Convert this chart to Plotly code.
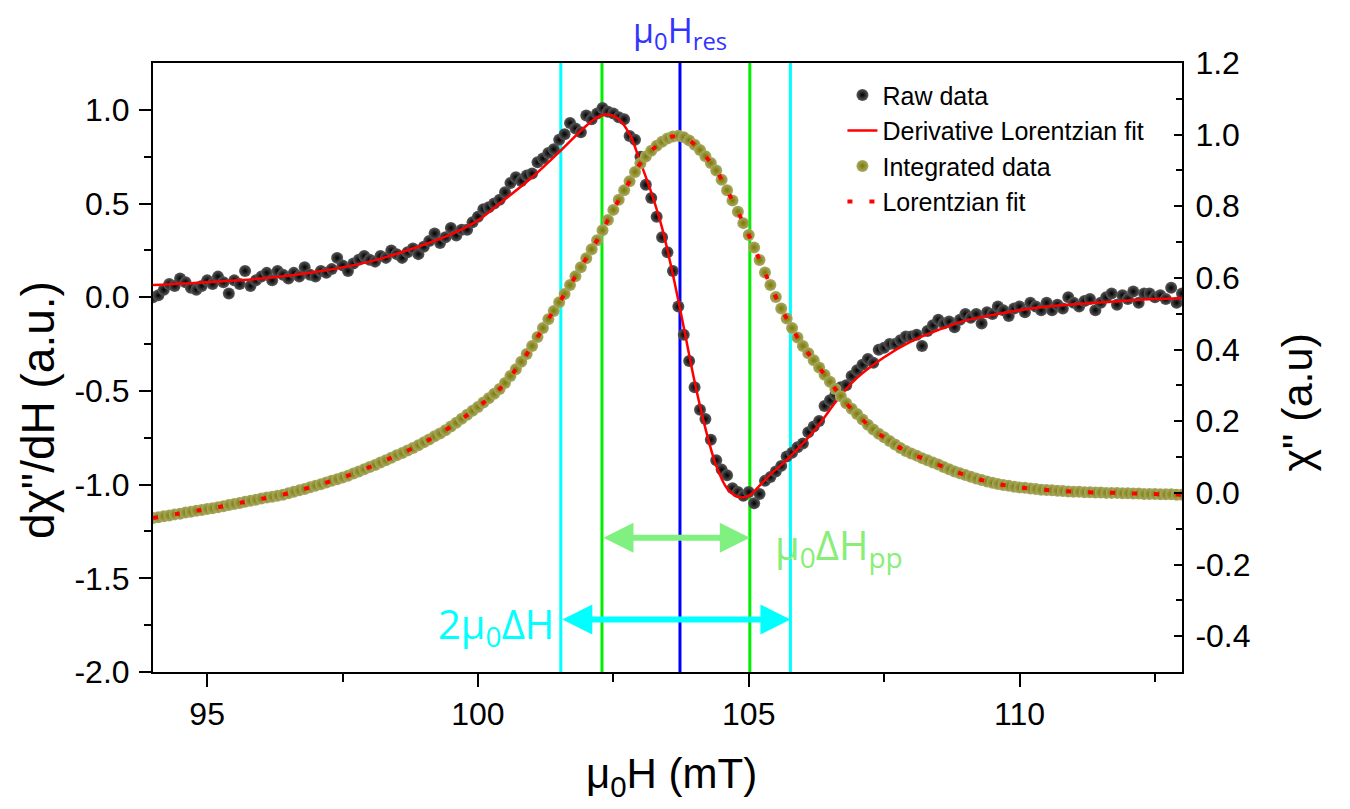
import plotly.graph_objects as go

# ---------------- data ----------------
field = [
    94.0, 94.1, 94.2, 94.3, 94.4, 94.5, 94.6, 94.7, 94.8, 94.9,
    95.0, 95.1, 95.2, 95.3, 95.4, 95.5, 95.6, 95.7, 95.8, 95.9,
    96.0, 96.1, 96.2, 96.3, 96.4, 96.5, 96.6, 96.7, 96.8, 96.9,
    97.0, 97.1, 97.2, 97.3, 97.4, 97.5, 97.6, 97.7, 97.8, 97.9,
    98.0, 98.1, 98.2, 98.3, 98.4, 98.5, 98.6, 98.7, 98.8, 98.9,
    99.0, 99.1, 99.2, 99.3, 99.4, 99.5, 99.6, 99.7, 99.8, 99.9,
    100.0, 100.1, 100.2, 100.3, 100.4, 100.5, 100.6, 100.7, 100.8, 100.9,
    101.0, 101.1, 101.2, 101.3, 101.4, 101.5, 101.6, 101.7, 101.8, 101.9,
    102.0, 102.1, 102.2, 102.3, 102.4, 102.5, 102.6, 102.7, 102.8, 102.9,
    103.0, 103.1, 103.2, 103.3, 103.4, 103.5, 103.6, 103.7, 103.8, 103.9,
    104.0, 104.1, 104.2, 104.3, 104.4, 104.5, 104.6, 104.7, 104.8, 104.9,
    105.0, 105.1, 105.2, 105.3, 105.4, 105.5, 105.6, 105.7, 105.8, 105.9,
    106.0, 106.1, 106.2, 106.3, 106.4, 106.5, 106.6, 106.7, 106.8, 106.9,
    107.0, 107.1, 107.2, 107.3, 107.4, 107.5, 107.6, 107.7, 107.8, 107.9,
    108.0, 108.1, 108.2, 108.3, 108.4, 108.5, 108.6, 108.7, 108.8, 108.9,
    109.0, 109.1, 109.2, 109.3, 109.4, 109.5, 109.6, 109.7, 109.8, 109.9,
    110.0, 110.1, 110.2, 110.3, 110.4, 110.5, 110.6, 110.7, 110.8, 110.9,
    111.0, 111.1, 111.2, 111.3, 111.4, 111.5, 111.6, 111.7, 111.8, 111.9,
    112.0, 112.1, 112.2, 112.3, 112.4, 112.5, 112.6, 112.7, 112.8, 112.9,
    113.0,
]

raw_deriv = [
    0.00, 0.01, 0.04, 0.07, 0.06, 0.10, 0.08, 0.05, 0.04, 0.06,
    0.09, 0.07, 0.11, 0.08, 0.02, 0.09, 0.07, 0.14, 0.06, 0.09,
    0.11, 0.13, 0.09, 0.14, 0.12, 0.10, 0.13, 0.11, 0.16, 0.12,
    0.11, 0.14, 0.13, 0.15, 0.21, 0.17, 0.14, 0.18, 0.20, 0.22,
    0.20, 0.19, 0.22, 0.21, 0.25, 0.23, 0.21, 0.24, 0.26, 0.23,
    0.27, 0.30, 0.34, 0.29, 0.32, 0.37, 0.33, 0.36, 0.36, 0.40,
    0.43, 0.47, 0.48, 0.50, 0.52, 0.56, 0.61, 0.64, 0.62, 0.65,
    0.66, 0.72, 0.74, 0.77, 0.79, 0.84, 0.87, 0.93, 0.90, 0.88,
    0.97, 0.95, 0.98, 1.01, 0.99, 0.98, 0.96, 0.95, 0.86, 0.84,
    0.75, 0.60, 0.53, 0.43, 0.32, 0.24, 0.14, -0.05, -0.20, -0.34,
    -0.48, -0.60, -0.65, -0.76, -0.87, -0.92, -0.95, -1.02, -1.04, -1.06,
    -1.04, -1.10, -1.05, -0.98, -0.96, -0.93, -0.90, -0.85, -0.83, -0.80,
    -0.78, -0.72, -0.69, -0.66, -0.58, -0.55, -0.52, -0.48, -0.47, -0.42,
    -0.39, -0.36, -0.33, -0.35, -0.28, -0.27, -0.25, -0.25, -0.23, -0.21,
    -0.21, -0.20, -0.26, -0.18, -0.15, -0.12, -0.14, -0.13, -0.16, -0.12,
    -0.09, -0.11, -0.09, -0.14, -0.08, -0.09, -0.05, -0.07, -0.10, -0.06,
    -0.05, -0.08, -0.03, -0.05, -0.07, -0.03, -0.07, -0.04, -0.06, 0.00,
    -0.03, -0.05, -0.02, -0.01, -0.07, -0.03, 0.00, 0.02, -0.04, 0.01,
    -0.01, 0.03, -0.03, 0.02, 0.02, 0.00, 0.01, -0.01, 0.05, -0.03,
    0.02,
]

integrated = [
    -0.070, -0.068, -0.065, -0.063, -0.060, -0.058, -0.055, -0.053, -0.050, -0.048,
    -0.045, -0.043, -0.040, -0.037, -0.034, -0.031, -0.028, -0.025, -0.022, -0.019,
    -0.016, -0.013, -0.011, -0.008, -0.005, -0.001, 0.003, 0.007, 0.011, 0.016,
    0.020, 0.024, 0.029, 0.034, 0.038, 0.043, 0.048, 0.054, 0.060, 0.066,
    0.072, 0.078, 0.085, 0.091, 0.098, 0.105, 0.111, 0.118, 0.125, 0.133,
    0.141, 0.149, 0.158, 0.166, 0.175, 0.185, 0.196, 0.207, 0.218, 0.229,
    0.240, 0.252, 0.264, 0.277, 0.290, 0.307, 0.326, 0.345, 0.366, 0.388,
    0.410, 0.435, 0.460, 0.485, 0.508, 0.532, 0.555, 0.580, 0.605, 0.630,
    0.655, 0.680, 0.705, 0.733, 0.762, 0.790, 0.818, 0.845, 0.870, 0.896,
    0.920, 0.939, 0.955, 0.969, 0.980, 0.989, 0.995, 0.997, 0.993, 0.984,
    0.972, 0.957, 0.940, 0.921, 0.900, 0.874, 0.845, 0.816, 0.785, 0.753,
    0.720, 0.685, 0.650, 0.615, 0.580, 0.547, 0.515, 0.487, 0.460, 0.434,
    0.410, 0.390, 0.370, 0.350, 0.330, 0.310, 0.290, 0.270, 0.250, 0.235,
    0.220, 0.205, 0.190, 0.177, 0.165, 0.155, 0.145, 0.135, 0.125, 0.117,
    0.110, 0.104, 0.097, 0.091, 0.085, 0.079, 0.072, 0.066, 0.060, 0.055,
    0.050, 0.045, 0.040, 0.036, 0.032, 0.028, 0.025, 0.022, 0.020, 0.017,
    0.015, 0.014, 0.012, 0.011, 0.009, 0.008, 0.007, 0.006, 0.005, 0.004,
    0.003, 0.003, 0.002, 0.002, 0.001, 0.001, 0.000, 0.000, 0.000, -0.001,
    -0.001, -0.002, -0.002, -0.003, -0.003, -0.003, -0.004, -0.004, -0.004, -0.005,
    -0.005,
]

deriv_fit_x = [94.0, 95.0, 96.0, 97.0, 98.0, 99.0, 99.5, 100.0, 100.4, 101.0,
               101.5, 102.0, 102.2, 102.4, 102.6, 102.8, 103.0, 103.2, 103.4, 103.6,
               103.8, 104.0, 104.2, 104.4, 104.6, 104.8, 105.0, 105.2, 105.4, 105.6,
               105.8, 106.0, 106.2, 106.4, 106.6, 106.8, 107.0, 107.5, 108.0, 108.5,
               109.0, 109.5, 110.0, 110.5, 111.0, 111.5, 112.0, 112.5, 113.0]
deriv_fit_y = [0.065, 0.080, 0.100, 0.135, 0.190, 0.280, 0.335, 0.410, 0.500, 0.640,
               0.775, 0.915, 0.960, 0.975, 0.950, 0.870, 0.720, 0.560, 0.370, 0.120,
               -0.160, -0.450, -0.700, -0.900, -1.020, -1.065, -1.060, -1.005, -0.945, -0.895,
               -0.840, -0.780, -0.715, -0.640, -0.560, -0.490, -0.430, -0.320, -0.235, -0.175,
               -0.125, -0.095, -0.070, -0.050, -0.038, -0.028, -0.018, -0.010, -0.005]

lor_fit_x = [94.0, 94.6, 95.2, 95.8, 96.4, 97.0, 97.6, 98.2, 98.8, 99.4,
             100.0, 100.4, 100.7, 101.0, 101.3, 101.6, 101.9, 102.2, 102.5, 102.8,
             103.0, 103.2, 103.4, 103.6, 103.8, 104.0, 104.2, 104.4, 104.6, 104.8,
             105.0, 105.2, 105.4, 105.6, 105.8, 106.0, 106.2, 106.4, 106.6, 106.8,
             107.0, 107.2, 107.4, 107.6, 107.8, 108.0, 108.4, 108.8, 109.2, 109.6,
             110.0, 110.6, 111.2, 111.8, 112.4, 113.0]
lor_fit_y = [-0.070, -0.055, -0.040, -0.022, -0.005, 0.020, 0.048, 0.085, 0.125, 0.175,
             0.240, 0.290, 0.345, 0.410, 0.485, 0.555, 0.630, 0.705, 0.790, 0.870,
             0.920, 0.955, 0.980, 0.995, 0.993, 0.972, 0.940, 0.900, 0.845, 0.785,
             0.720, 0.650, 0.580, 0.515, 0.460, 0.410, 0.370, 0.330, 0.290, 0.250,
             0.220, 0.190, 0.165, 0.145, 0.125, 0.110, 0.085, 0.060, 0.040, 0.025,
             0.015, 0.007, 0.002, 0.000, -0.003, -0.005]

# characteristic fields (mT)
H_RES = 103.73
H_PP_LOW, H_PP_HIGH = 102.29, 105.02
H_HW_LOW, H_HW_HIGH = 101.53, 105.77

left_ticks = [-2.0, -1.5, -1.0, -0.5, 0.0, 0.5, 1.0]
left_ticklabels = ["-2.0", "-1.5", "-1.0", "-0.5", "0.0", "0.5", "1.0"]
right_ticks = [-0.4, -0.2, 0.0, 0.2, 0.4, 0.6, 0.8, 1.0, 1.2]
right_ticklabels = ["-0.4", "-0.2", "0.0", "0.2", "0.4", "0.6", "0.8", "1.0", "1.2"]
x_ticks = [95, 100, 105, 110]
x_minor_ticks = [97.5, 102.5, 107.5, 112.5]

for name, arr in (("raw_deriv", raw_deriv), ("integrated", integrated)):
    if len(arr) != len(field):
        raise ValueError(f"{name} length {len(arr)} != field length {len(field)}")

# ---------------- figure ----------------
FONT = "Arial, Liberation Sans, sans-serif"
fig = go.Figure()

fig.add_trace(go.Scatter(
    x=field, y=raw_deriv, mode="markers", name="Raw data",
    marker=dict(size=12, color="#5a5a5a", gradient=dict(type="radial", color="#000000"),
                line=dict(width=0)),
))
fig.add_trace(go.Scatter(
    x=deriv_fit_x, y=deriv_fit_y, mode="lines", name="Derivative Lorentzian fit",
    line=dict(color="#ff0000", width=2.5, shape="spline"),
))
fig.add_trace(go.Scatter(
    x=field, y=integrated, yaxis="y2", mode="markers", name="Integrated data",
    marker=dict(size=12, color="#aaaa68", gradient=dict(type="radial", color="#7a7a00"),
                line=dict(width=0)),
))
fig.add_trace(go.Scatter(
    x=lor_fit_x, y=lor_fit_y, yaxis="y2", mode="lines", name="Lorentzian fit",
    line=dict(color="#ff0000", width=4, dash="5px,17px", shape="spline"),
))

# vertical marker lines
for xv, col in ((H_HW_LOW, "#00ffff"), (H_PP_LOW, "#00ee00"), (H_RES, "#0000ff"),
                (H_PP_HIGH, "#00ee00"), (H_HW_HIGH, "#00ffff")):
    fig.add_shape(type="line", xref="x", yref="paper", x0=xv, x1=xv, y0=0, y1=1,
                  line=dict(color=col, width=3), layer="below")

annotations = [
    dict(x=H_RES, y=1.0, xref="x", yref="paper", yanchor="bottom", yshift=4,
         text="μ<sub>0</sub>H<sub>res</sub>", showarrow=False,
         font=dict(family="Open Sans", size=34, color="#3333ff")),
    dict(x=H_PP_HIGH, y=-1.283, xref="x", yref="y", ax=H_PP_LOW, ay=-1.283,
         axref="x", ayref="y", text="", showarrow=True, arrowhead=2, startarrowhead=2,
         arrowside="end+start", arrowwidth=6, arrowsize=1.0, startarrowsize=1.0,
         arrowcolor="#80f080", standoff=0, startstandoff=0),
    dict(x=H_HW_HIGH, y=-1.72, xref="x", yref="y", ax=H_HW_LOW, ay=-1.72,
         axref="x", ayref="y", text="", showarrow=True, arrowhead=2, startarrowhead=2,
         arrowside="end+start", arrowwidth=6, arrowsize=1.0, startarrowsize=1.0,
         arrowcolor="#00ffff", standoff=0, startstandoff=0),
    dict(x=105.45, y=-1.33, xref="x", yref="y", xanchor="left", yanchor="middle",
         text="μ<sub>0</sub>ΔH<sub>pp</sub>", showarrow=False,
         font=dict(family="Open Sans", size=40, color="#88ee77")),
    dict(x=101.45, y=-1.75, xref="x", yref="y", xanchor="right", yanchor="middle",
         text="2μ<sub>0</sub>ΔH", showarrow=False,
         font=dict(family="Open Sans", size=40, color="#00ffff")),
    # axis titles (placed explicitly to match the reference)
    dict(x=0.504, y=-0.172, xref="paper", yref="paper", xanchor="center", yanchor="middle",
         text="μ<sub>0</sub>H (mT)", showarrow=False,
         font=dict(family=FONT, size=42, color="black")),
    dict(x=-0.112, y=0.43, xref="paper", yref="paper", xanchor="center", yanchor="middle",
         text="dχ\"/dH (a.u.)", showarrow=False, textangle=-90,
         font=dict(family=FONT, size=46, color="black")),
    dict(x=1.112, y=0.443, xref="paper", yref="paper", xanchor="center", yanchor="middle",
         text="χ\" (a.u)", showarrow=False, textangle=-90,
         font=dict(family=FONT, size=43, color="black")),
]

axis_common = dict(showgrid=False, zeroline=False, showline=True, linecolor="black",
                   linewidth=2, tickcolor="black", tickwidth=2,
                   tickfont=dict(family=FONT, size=32, color="black"))

# page body has an 8px default margin, so the figure is 16px smaller and shifted
fig.update_layout(
    width=1342, height=801,
    margin=dict(l=145, r=168, t=55, b=137, autoexpand=False),
    paper_bgcolor="white", plot_bgcolor="white",
    font=dict(family=FONT, color="black"),
    showlegend=True,
    legend=dict(x=0.670, y=0.985, xanchor="left", yanchor="top",
                bgcolor="rgba(0,0,0,0)", borderwidth=0,
                font=dict(family=FONT, size=25, color="black"),
                tracegroupgap=0, itemwidth=30),
    xaxis=dict(range=[94, 113], tickvals=x_ticks, ticks="outside", ticklen=13,
               mirror=True,
               minor=dict(tickvals=x_minor_ticks, ticks="outside",
                          ticklen=8, tickwidth=2, tickcolor="black"),
               **axis_common),
    yaxis=dict(range=[-2.0, 1.25], tickvals=left_ticks, ticktext=left_ticklabels,
               ticks="outside", ticklen=12, ticklabelstandoff=3,
               minor=dict(tickvals=[-1.75, -1.25, -0.75, -0.25, 0.25, 0.75],
                          ticks="outside", ticklen=7, tickwidth=2, tickcolor="black"),
               **axis_common),
    yaxis2=dict(range=[-0.5, 1.2], overlaying="y", side="right",
                tickvals=right_ticks, ticktext=right_ticklabels,
                ticks="inside", ticklen=8, ticklabelstandoff=5,
                minor=dict(tickvals=[-0.3, -0.1, 0.1, 0.3, 0.5, 0.7, 0.9, 1.1],
                           ticks="inside", ticklen=6, tickwidth=2, tickcolor="black"),
                **axis_common),
    annotations=annotations,
)

fig.write_html("out.html")
